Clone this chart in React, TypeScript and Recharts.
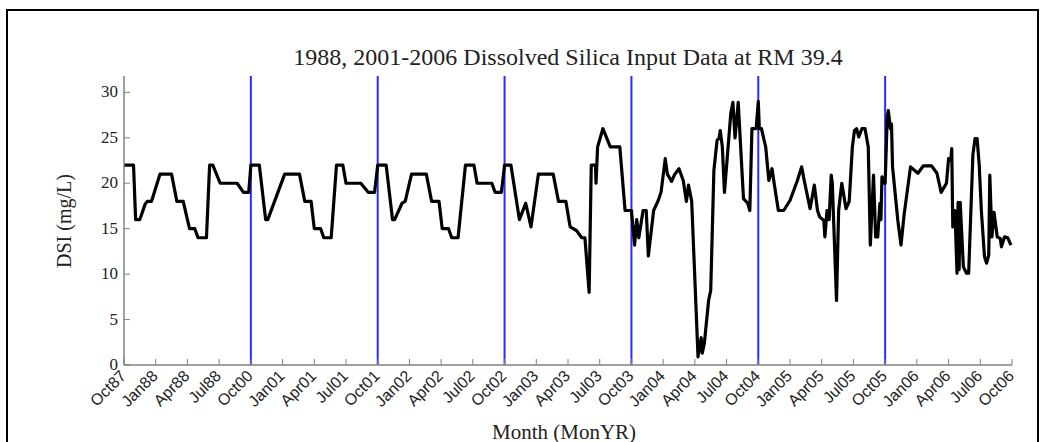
import { LineChart, Line, XAxis, YAxis, ReferenceLine } from "recharts";

// x = months since Oct87 (the 1989-2000 gap is collapsed, Oct88 -> Oct00)
const months = [
  0, 0.9, 1.1, 1.5, 2.0, 2.2, 2.6, 3.4, 4.5, 5.0, 5.6, 6.2, 6.7, 7.0, 7.8, 8.1, 8.4, 9.1, 10.7, 11.3, 11.8,
  12, 12.8, 13.4, 13.6, 15.2, 16.6, 17.1, 17.7, 18.0, 18.6, 18.9, 19.6, 20.1, 20.7, 21.0, 22.4, 23.1, 23.7,
  24, 24.8, 25.4, 25.6, 26.3, 26.6, 27.2, 28.6, 29.1, 29.8, 30.1, 30.7, 31.0, 31.6, 32.3, 33.1, 33.4, 34.8, 35.1, 35.7,
  36, 36.6, 37.4, 38.0, 38.5, 39.2, 40.6, 41.1, 41.8, 42.2, 42.8, 43.3, 43.6, 44.0, 44.2, 44.6, 44.65, 44.8, 45.3, 46.0, 46.9, 47.4, 48.0,
  48.3, 48.5, 48.7, 49.1, 49.4, 49.6, 50.1, 50.5, 50.8, 51.2, 51.4, 51.8, 52.1, 52.5, 52.9, 53.2, 53.4, 53.7,
  54.3, 54.6, 54.7, 54.9, 55.3, 55.5, 55.8, 56.1, 56.3, 56.4, 56.6, 56.8, 57.4, 57.6, 57.8, 58.1, 58.6, 59.0, 59.2, 59.4, 59.8,
  60.0, 60.1, 60.3, 60.7, 61.0, 61.3, 61.5, 61.9, 62.4, 63.0, 63.7, 64.1, 64.4, 64.9, 65.3, 65.6, 65.8, 66.2, 66.3, 66.5, 66.7, 66.9,
  67.0, 67.4, 67.6, 67.9, 68.3, 68.6, 68.9, 69.1, 69.3, 69.5, 69.8, 70.1, 70.4, 70.6, 70.9, 71.1, 71.3, 71.5, 71.6, 71.7, 71.8, 72.0,
  72.2, 72.3, 72.5, 72.6, 72.7, 73.2, 73.5, 73.8, 74.4, 75.1, 75.6, 76.4, 76.9, 77.3, 77.8, 78.0, 78.2, 78.3, 78.4, 78.6, 78.8, 78.9,
  79.0, 79.1, 79.4, 79.7, 79.9, 80.3, 80.5, 80.7, 80.9, 81.1, 81.4, 81.6, 81.8, 81.9, 82.1, 82.3, 82.6, 82.9, 83.0, 83.3, 83.6, 83.9,
];

const dsi = [
  22, 22, 16, 16, 17.7, 18, 18, 21, 21, 18, 18, 15, 15, 14, 14, 22, 22, 20, 20, 19, 19,
  22, 22, 16, 16, 21, 21, 18, 18, 15, 15, 14, 14, 22, 22, 20, 20, 19, 19,
  22, 22, 16, 16, 17.8, 18, 21, 21, 18, 18, 15, 15, 14, 14, 22, 22, 20, 20, 19, 19,
  22, 22, 16, 17.8, 15.2, 21, 21, 18, 18, 15.2, 14.8, 14, 14, 8, 22, 22, 20, 24, 26, 24, 24, 17, 17,
  13.2, 16, 14, 17, 17, 12, 17, 18, 19, 22.7, 21, 20.2, 21, 21.6, 20.3, 18, 19.8, 18,
  0.9, 3, 1.3, 2.4, 7.1, 8.2, 21.4, 24.7, 25, 25.8, 24, 19, 27.7, 28.9, 25, 28.9, 18.3, 17.8, 17, 26, 26,
  29, 26, 26, 24, 20.3, 21.6, 20, 17, 17, 18.1, 20.3, 21.8, 20, 17.2, 19.8, 17, 16.3, 15.9, 14.1, 17, 16, 20.9,
  20, 7.1, 17, 20, 17.2, 18, 24, 25.8, 26, 25.1, 26, 26, 24, 13.2, 20.9, 14.1, 14.1, 17.8, 16, 20.7, 20, 20,
  27.3, 28, 26, 26.5, 21.8, 15.9, 13.2, 16.6, 21.8, 21.1, 21.9, 21.9, 21.1, 19, 20, 22.7, 22.5, 23.8, 15.2, 17, 10.1, 17.9,
  10.5, 17.9, 10.8, 10.1, 10.1, 23.1, 24.9, 24.9, 22, 17, 11.9, 11.2, 12.1, 20.9, 14.1, 16.8, 14.1, 13.9, 13, 14.1, 14, 13.2,
];

const tickLabels = [
  "Oct87", "Jan88", "Apr88", "Jul88", "Oct00", "Jan01", "Apr01", "Jul01", "Oct01", "Jan02",
  "Apr02", "Jul02", "Oct02", "Jan03", "Apr03", "Jul03", "Oct03", "Jan04", "Apr04", "Jul04",
  "Oct04", "Jan05", "Apr05", "Jul05", "Oct05", "Jan06", "Apr06", "Jul06", "Oct06",
];
const xTicks = tickLabels.map((_, i) => i * 3);
const yTicks = [0, 5, 10, 15, 20, 25, 30];
const yearBreaks = [12, 24, 36, 48, 60, 72];

const data = months.map((m, i) => ({ month: m, dsi: dsi[i] }));

const serif = '"Liberation Serif", "Times New Roman", serif';
const sans = '"Liberation Sans", Arial, sans-serif';

function XTick(props: any) {
  const { x, y, payload } = props;
  return (
    <g>
      <line x1={x} y1={y} x2={x} y2={y - 6} stroke="#808080" strokeWidth={1} />
      <text
        x={x + 3}
        y={y + 12}
        transform={`rotate(-45 ${x + 3} ${y + 12})`}
        textAnchor="end"
        fontFamily={sans}
        fontSize={16}
        fill="#222"
      >
        {tickLabels[Math.round(payload.value / 3)]}
      </text>
    </g>
  );
}

function YTick(props: any) {
  const { x, y, payload } = props;
  return (
    <g>
      <line x1={x} y1={y} x2={x + 6} y2={y} stroke="#808080" strokeWidth={1} />
      <text x={x - 6} y={y + 5} textAnchor="end" fontFamily={serif} fontSize={17} fill="#222">
        {payload.value}
      </text>
    </g>
  );
}

export default function App() {
  return (
    <div style={{ position: "absolute", left: 0, top: 0, width: 1047, height: 442, background: "#fff" }}>
      <div
        style={{
          position: "absolute",
          left: 6,
          top: 9,
          width: 1033,
          height: 440,
          border: "2px solid #000",
          boxSizing: "border-box",
        }}
      />
      <div
        style={{
          position: "absolute",
          left: 124,
          width: 888,
          top: 43,
          textAlign: "center",
          fontFamily: serif,
          fontSize: 24,
          lineHeight: "28px",
          color: "#222",
        }}
      >
        1988, 2001-2006 Dissolved Silica Input Data at RM 39.4
      </div>
      <div
        style={{
          position: "absolute",
          left: 120,
          width: 888,
          top: 420,
          textAlign: "center",
          fontFamily: serif,
          fontSize: 21,
          lineHeight: "24px",
          color: "#222",
        }}
      >
        Month (MonYR)
      </div>
      <div
        style={{
          position: "absolute",
          left: 64 - 100,
          top: 221 - 12,
          width: 200,
          textAlign: "center",
          transform: "rotate(-90deg)",
          fontFamily: serif,
          fontSize: 20,
          lineHeight: "24px",
          color: "#222",
        }}
      >
        DSI (mg/L)
      </div>
      <div style={{ position: "absolute", left: 0, top: 0 }}>
        <LineChart width={1047} height={442} data={data} margin={{ top: 76, right: 35, bottom: 17, left: 64 }}>
          <XAxis
            dataKey="month"
            type="number"
            domain={[0, 84]}
            ticks={xTicks}
            interval={0}
            height={60}
            tickSize={0}
            tickMargin={0}
            tick={<XTick />}
            axisLine={{ stroke: "#808080", strokeWidth: 1.5 }}
          />
          <YAxis
            type="number"
            domain={[0, 31.8]}
            ticks={yTicks}
            width={60}
            tickSize={0}
            tickMargin={0}
            tick={<YTick />}
            axisLine={{ stroke: "#808080", strokeWidth: 1.5 }}
            allowDataOverflow
          />
          {yearBreaks.map((m) => (
            <ReferenceLine key={m} x={m} stroke="#2b2bff" strokeWidth={2} />
          ))}
          <Line
            type="linear"
            dataKey="dsi"
            stroke="#000"
            strokeWidth={3.2}
            dot={false}
            isAnimationActive={false}
            strokeLinejoin="round"
          />
        </LineChart>
      </div>
    </div>
  );
}
